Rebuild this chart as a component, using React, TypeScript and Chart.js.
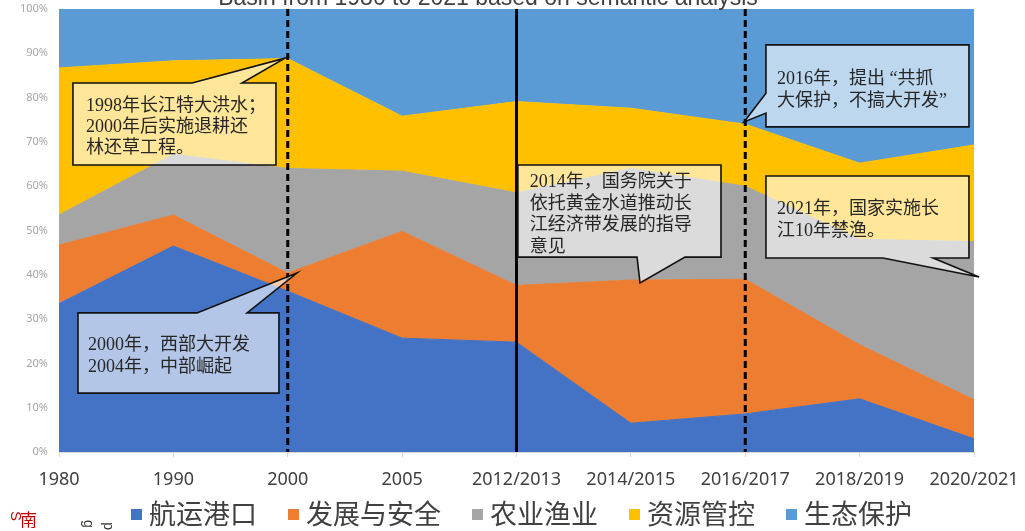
import React, { useEffect, useRef } from 'react';
import { Chart, registerables } from 'chart.js';

Chart.register(...registerables);

// ---- data ----
const categories = ['1980', '1990', '2000', '2005', '2012/2013', '2014/2015', '2016/2017', '2018/2019', '2020/2021'];
const seriesNames = ['航运港口', '发展与安全', '农业渔业', '资源管控', '生态保护'];
const shipping = [33.5, 46.5, 36.3, 25.7, 24.8, 6.5, 8.6, 12.0, 3.0];
const development = [13.2, 7.0, 4.1, 24.1, 12.8, 32.3, 30.4, 12.2, 8.8];
const agriculture = [6.8, 13.7, 23.6, 13.6, 20.9, 25.2, 21.0, 23.8, 35.7];
const resource = [33.2, 21.1, 24.8, 12.4, 20.6, 13.6, 14.0, 17.2, 21.8];
const ecology = [13.3, 11.7, 11.2, 24.2, 20.9, 22.4, 26.0, 34.8, 30.7];
const yTicks = [0, 10, 20, 30, 40, 50, 60, 70, 80, 90, 100];
const eventCategories = ['2000', '2012/2013', '2016/2017'];
const eventDashed = [true, false, true];
const titleText = 'Basin from 1980 to 2021 based on semantic analysis';

// ---- annotations (in category-index / percent coordinates) ----
type Callout = {
  lines: string[];
  box: [number, number, number, number];
  side: 'top' | 'bottom' | 'left';
  base: [number, number];
  tip: [number, number];
  dx: number; dy: number; lh: number;
};
const callouts: Callout[] = [
  { lines: ['1998年长江特大洪水；', '2000年后实施退耕还', '林还草工程。'], box: [0.122, 1.897, 83.3, 64.8], side: 'top', base: [1.163, 1.6], tip: [1.976, 88.9], dx: 13, dy: 23, lh: 21 },
  { lines: ['2000年，西部大开发', '2004年，中部崛起'], box: [0.166, 1.923, 31.4, 13.3], side: 'top', base: [1.207, 1.644], tip: [2.08, 40.4], dx: 10, dy: 32, lh: 22 },
  { lines: ['2014年，国务院关于', '依托黄金水道推动长', '江经济带发展的指导', '意见'], box: [4.012, 5.788, 64.8, 44.0], side: 'bottom', base: [5.054, 5.473], tip: [5.08, 38.15], dx: 12, dy: 17, lh: 21.9 },
  { lines: ['2016年，提出 “共抓', '大保护，不搞大开发”'], box: [6.181, 7.956, 91.9, 73.4], side: 'left', base: [76.5, 81.0], tip: [5.989, 74.5], dx: 11, dy: 34, lh: 22 },
  { lines: ['2021年，国家实施长', '江10年禁渔。'], box: [6.181, 7.956, 62.3, 43.8], side: 'bottom', base: [7.204, 7.642], tip: [8.044, 39.5], dx: 11, dy: 33, lh: 22 },
];

const colors = ['#4472C4', '#ED7D31', '#A5A5A5', '#FFC000', '#5B9BD5'];
const CJK = '"Noto Sans CJK SC"';

const overlayPlugin = {
  id: 'overlay',
  afterDatasetsDraw(chart: any) {
    const { ctx, chartArea } = chart;
    const xs = chart.scales.x;
    const ys = chart.scales.y;
    // event lines
    eventCategories.forEach((c, i) => {
      const idx = categories.indexOf(c);
      const x = xs.getPixelForValue(idx);
      ctx.save();
      ctx.strokeStyle = '#000';
      ctx.lineWidth = 3;
      ctx.setLineDash(eventDashed[i] ? [7, 4] : []);
      ctx.beginPath();
      ctx.moveTo(x, chartArea.top);
      ctx.lineTo(x, chartArea.bottom);
      ctx.stroke();
      ctx.restore();
    });
    // callouts
    callouts.forEach((c) => {
      const x0 = xs.getPixelForValue(c.box[0]);
      const x1 = xs.getPixelForValue(c.box[1]);
      const yT = ys.getPixelForValue(c.box[2]);
      const yB = ys.getPixelForValue(c.box[3]);
      const tx = xs.getPixelForValue(c.tip[0]);
      const ty = ys.getPixelForValue(c.tip[1]);
      ctx.save();
      ctx.beginPath();
      if (c.side === 'top') {
        const bl = xs.getPixelForValue(c.base[0]);
        const br = xs.getPixelForValue(c.base[1]);
        ctx.moveTo(x0, yT); ctx.lineTo(bl, yT); ctx.lineTo(tx, ty); ctx.lineTo(br, yT);
        ctx.lineTo(x1, yT); ctx.lineTo(x1, yB); ctx.lineTo(x0, yB);
      } else if (c.side === 'bottom') {
        const bl = xs.getPixelForValue(c.base[0]);
        const br = xs.getPixelForValue(c.base[1]);
        ctx.moveTo(x0, yT); ctx.lineTo(x1, yT); ctx.lineTo(x1, yB); ctx.lineTo(br, yB);
        ctx.lineTo(tx, ty); ctx.lineTo(bl, yB); ctx.lineTo(x0, yB);
      } else {
        const bLow = ys.getPixelForValue(c.base[0]);
        const bHigh = ys.getPixelForValue(c.base[1]);
        ctx.moveTo(x0, yT); ctx.lineTo(x1, yT); ctx.lineTo(x1, yB); ctx.lineTo(x0, yB);
        ctx.lineTo(x0, bLow); ctx.lineTo(tx, ty); ctx.lineTo(x0, bHigh);
      }
      ctx.closePath();
      ctx.fillStyle = 'rgba(255,255,255,0.6)';
      ctx.fill();
      ctx.lineWidth = 1.6;
      ctx.strokeStyle = '#111';
      ctx.lineJoin = 'miter';
      ctx.stroke();
      ctx.fillStyle = '#262626';
      ctx.font = `18px "Liberation Serif", ${CJK}`;
      ctx.textAlign = 'left';
      ctx.textBaseline = 'middle';
      c.lines.forEach((t, i) => ctx.fillText(t, x0 + c.dx, yT + c.dy + i * c.lh));
      ctx.restore();
    });
  },
  afterDraw(chart: any) {
    const { ctx } = chart;
    ctx.save();
    // clipped title at the very top
    ctx.fillStyle = '#404040';
    ctx.font = '23px "Liberation Sans"';
    ctx.textAlign = 'center';
    ctx.textBaseline = 'alphabetic';
    ctx.fillText(titleText, 488, 5);
    // legend
    ctx.font = `27px ${CJK}`;
    ctx.textAlign = 'left';
    ctx.textBaseline = 'middle';
    let x = 131;
    const cy = 514;
    chart.data.datasets.forEach((ds: any) => {
      ctx.fillStyle = ds.backgroundColor;
      ctx.fillRect(x, cy - 5, 11, 11);
      ctx.fillStyle = '#404040';
      ctx.fillText(ds.label, x + 18, cy);
      x += 18 + ctx.measureText(ds.label).width + 31;
    });
    // stray page fragments at bottom-left
    ctx.fillStyle = '#C00000';
    ctx.font = '15px "Liberation Sans"';
    ctx.save();
    ctx.translate(11, 511);
    ctx.rotate(Math.PI / 2);
    ctx.textBaseline = 'alphabetic';
    ctx.textAlign = 'left';
    ctx.fillText('S', 0, 0);
    ctx.restore();
    ctx.font = `17px ${CJK}`;
    ctx.textAlign = 'left';
    ctx.textBaseline = 'middle';
    ctx.fillText('南', 20, 520);
    ctx.fillStyle = '#333';
    ctx.font = '14px "Liberation Sans"';
    ctx.save();
    ctx.translate(84, 520);
    ctx.rotate(Math.PI / 2);
    ctx.textBaseline = 'alphabetic';
    ctx.fillText('g', 0, 0);
    ctx.restore();
    ctx.save();
    ctx.translate(102, 530);
    ctx.rotate(-Math.PI / 2);
    ctx.textBaseline = 'alphabetic';
    ctx.fillText('d', 0, 10);
    ctx.restore();
    ctx.restore();
  },
};

export default function App() {
  const ref = useRef<HTMLCanvasElement>(null);
  useEffect(() => {
    const canvas = ref.current;
    if (!canvas) return;
    const values = [shipping, development, agriculture, resource, ecology];
    const chart = new Chart(canvas, {
      type: 'line',
      data: {
        labels: categories,
        datasets: seriesNames.map((name, i) => ({
          label: name,
          data: values[i],
          backgroundColor: colors[i],
          borderColor: colors[i],
          borderWidth: 1,
          pointRadius: 0,
          pointHoverRadius: 0,
          fill: i === 0 ? 'origin' : '-1',
          tension: 0,
        })),
      },
      options: {
        responsive: false,
        devicePixelRatio: 1,
        animation: false,
        events: [],
        layout: { padding: { top: 9, right: 51, bottom: 39, left: 0 } },
        plugins: {
          legend: { display: false },
          tooltip: { enabled: false },
          title: { display: false },
        },
        scales: {
          x: {
            grid: { drawOnChartArea: false, tickLength: 5, color: '#D9D9D9' },
            border: { color: '#D9D9D9' },
            ticks: {
              padding: 12,
              maxRotation: 0,
              autoSkip: false,
              color: '#404040',
              font: { family: '"Noto Sans"', size: 18 },
            },
            afterFit: (s: any) => { s.height = 40; s.paddingLeft = 0; s.paddingRight = 0; },
          },
          y: {
            stacked: true,
            min: 0,
            max: 100,
            afterBuildTicks: (s: any) => { s.ticks = yTicks.map((v) => ({ value: v })); },
            ticks: {
              padding: 11,
              color: '#A6A6A6',
              font: { family: '"Noto Sans"', size: 11 },
              callback: (v: any) => `${v}%`,
            },
            grid: { drawTicks: false, color: '#D9D9D9' },
            border: { display: false },
            afterFit: (s: any) => { s.width = 59; s.paddingTop = 0; s.paddingBottom = 0; },
          },
        },
      } as any,
      plugins: [overlayPlugin],
    });
    return () => chart.destroy();
  }, []);
  return (
    <div style={{ position: 'fixed', left: 0, top: 0, width: 1025, height: 531, background: '#fff' }}>
      <canvas ref={ref} width={1025} height={531} style={{ display: 'block', width: 1025, height: 531 }} />
    </div>
  );
}
